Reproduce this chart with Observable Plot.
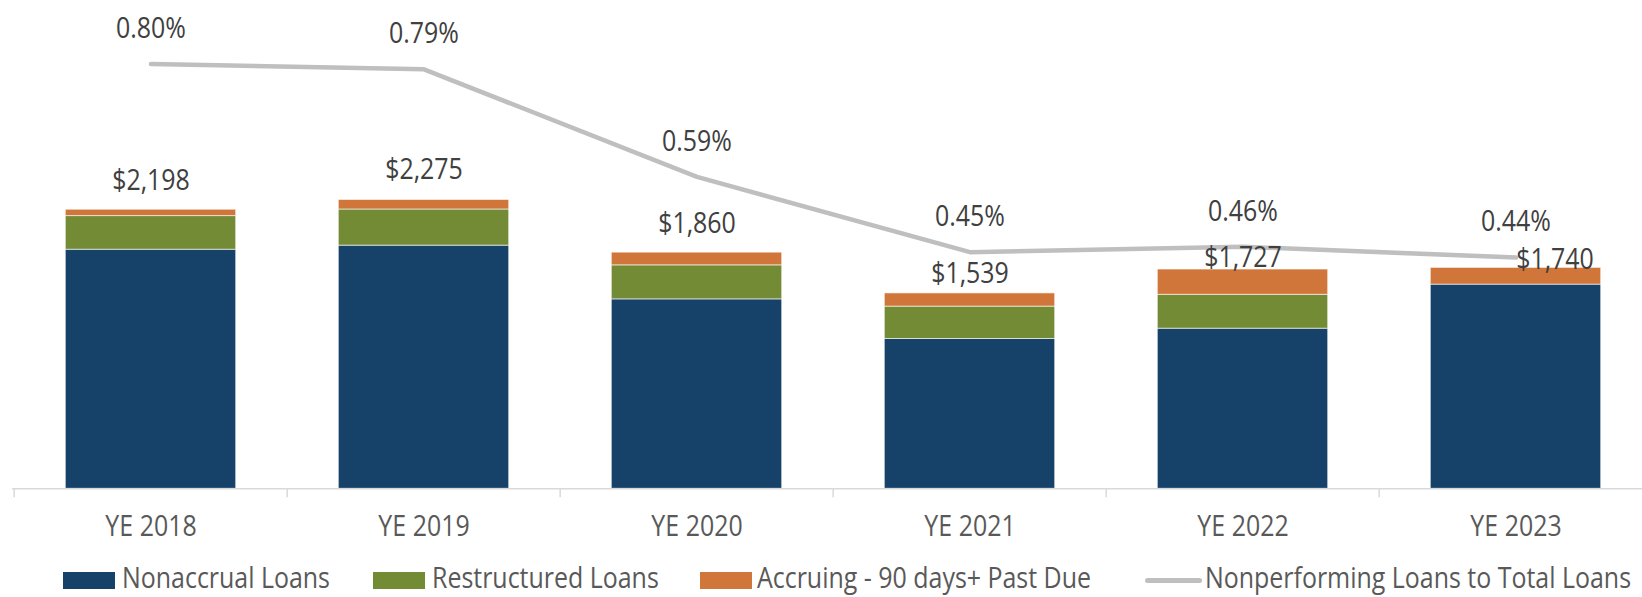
<!DOCTYPE html>
<html><head><meta charset="utf-8">
<script src="https://cdn.jsdelivr.net/npm/d3@7"></script>
<script src="https://cdn.jsdelivr.net/npm/@observablehq/plot@0.6"></script>
<style>
body{margin:0;background:#fff;font-family:"Open Sans",sans-serif;}
#wrap{position:relative;width:1642px;height:597px;}
#chart{height:555px;}
#legend{position:relative;width:1642px;height:42px;}
.sw{position:absolute;top:17px;width:52px;height:17px;}
.ln{position:absolute;top:23px;width:57px;height:5px;border-radius:3px;}
.lt{position:absolute;top:7px;font-size:29px;line-height:29px;color:#595959;white-space:nowrap;transform:scaleX(0.86);transform-origin:0 50%;}
</style></head><body><div id="wrap"><div id="chart"></div><div id="legend"></div></div>
<script>
// ---- data ----
const categories = ["YE 2018","YE 2019","YE 2020","YE 2021","YE 2022","YE 2023"];
const nonaccrual   = [1883, 1915, 1492, 1180, 1261, 1608];
const restructured = [265, 285, 268, 255, 267, 0];
const accruing     = [50, 75, 100, 104, 199, 132];
const totals       = [2198, 2275, 1860, 1539, 1727, 1740];
const nplRatio     = [0.80, 0.79, 0.59, 0.45, 0.46, 0.44];
const seriesNames  = ["Nonaccrual Loans", "Restructured Loans", "Accruing - 90 days+ Past Due"];
const lineName     = "Nonperforming Loans to Total Loans";

// ---- styling ----
const colors = ["#164169", "#748B36", "#D0763A"];
const lineColor = "#BFBFBF";
const leftDomain = [0, 3846];      // primary axis ($)
const rightDomain = [0.01, 0.918]; // secondary axis (%)
const totalLabelDy = [-29.5, -30.5, -29, -19.5, -12, -8.5];
const totalLabelDx = [0, 0, 0, 0, 0, 39];
const W = 1642, H = 555;
const step = W / categories.length;
const barInset = 51.3;
const FS = 29, SX = 0.86;

const stacked = categories.flatMap((c, i) => [
  {cat: c, series: seriesNames[0], value: nonaccrual[i]},
  {cat: c, series: seriesNames[1], value: restructured[i]},
  {cat: c, series: seriesNames[2], value: accruing[i]}
]).filter(d => d.value > 0);

const pct = d3.scaleLinear().domain(rightDomain).range(leftDomain);
const lineData = categories.map((c, i) => ({cat: c, v: pct(nplRatio[i]), label: nplRatio[i].toFixed(2) + "%"}));
const totalData = categories.map((c, i) => ({cat: c, total: totals[i], label: "$" + d3.format(",")(totals[i])}));

const totalMarks = totalData.map((d, i) => Plot.text([d], {
  x: "cat", y: "total", text: "label", dy: totalLabelDy[i], dx: totalLabelDx[i],
  fill: "#404040", fontSize: FS, lineAnchor: "middle"
}));

const chart = Plot.plot({
  width: W, height: H,
  marginLeft: 12, marginRight: 0, marginTop: 0, marginBottom: 0,
  x: {type: "band", domain: categories, range: [12, 12 + W], padding: 0, axis: null},
  y: {domain: leftDomain, range: [488.3, 0], axis: null},
  color: {domain: seriesNames, range: colors},
  style: {fontFamily: "'Open Sans', sans-serif", background: "#fff", overflow: "visible", display: "block"},
  marks: [
    Plot.barY(stacked, {x: "cat", y: "value", fill: "series", insetLeft: barInset, insetRight: barInset,
      stroke: "#ffffff", strokeWidth: 1, strokeOpacity: 0.6}),
    Plot.ruleY([0], {stroke: "#d9d9d9", strokeWidth: 1.5}),
    Plot.ruleX(categories, {x: d => d, dx: -step / 2, y1: () => 0, y2: () => 0, insetBottom: -9,
      stroke: "#d9d9d9", strokeWidth: 1.5}),
    Plot.line(lineData, {x: "cat", y: "v", stroke: lineColor, strokeWidth: 4.5,
      strokeLinecap: "round", strokeLinejoin: "round"}),
    Plot.text(lineData, {x: "cat", y: "v", text: "label", dy: -35.5, fill: "#404040", fontSize: FS, lineAnchor: "middle"}),
    ...totalMarks,
    Plot.text(categories, {x: d => d, y: () => 0, text: d => d, dy: 37.5, fill: "#595959", fontSize: FS, lineAnchor: "middle"})
  ]
});

// condense text horizontally (about each text's own anchor) to match the reference's narrow lettering
chart.querySelectorAll("text").forEach(t => {
  const base = t.transform && t.transform.baseVal;
  let m = new DOMMatrix();
  if (base && base.numberOfItems > 0) {
    const c = base.consolidate();
    if (c) { const q = c.matrix; m = new DOMMatrix([q.a, q.b, q.c, q.d, q.e, q.f]); }
  }
  const ax = parseFloat(t.getAttribute("x")) || 0;
  const ay = parseFloat(t.getAttribute("y")) || 0;
  m = m.translate(ax, ay).scale(SX, 1).translate(-ax, -ay);
  t.setAttribute("transform", `matrix(${m.a},${m.b},${m.c},${m.d},${m.e},${m.f})`);
});
document.getElementById("chart").appendChild(chart);

// ---- legend ----
const legend = document.getElementById("legend");
const legendItems = [
  {name: seriesNames[0], color: colors[0], type: "box", sx: 63, tx: 121.5},
  {name: seriesNames[1], color: colors[1], type: "box", sx: 373, tx: 432},
  {name: seriesNames[2], color: colors[2], type: "box", sx: 700, tx: 757},
  {name: lineName, color: lineColor, type: "line", sx: 1145, tx: 1205}
];
legendItems.forEach(it => {
  const s = document.createElement("div");
  s.className = it.type === "box" ? "sw" : "ln";
  s.style.left = it.sx + "px";
  s.style.background = it.color;
  legend.appendChild(s);
  const t = document.createElement("span");
  t.className = "lt";
  t.style.left = it.tx + "px";
  t.textContent = it.name;
  legend.appendChild(t);
});
</script>
</body></html>
